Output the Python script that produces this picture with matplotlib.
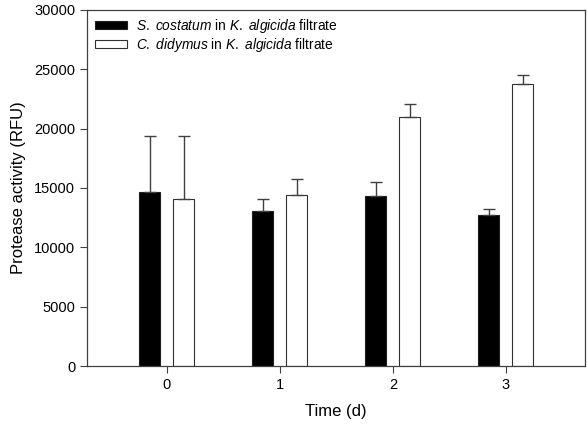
import numpy as np
import matplotlib
matplotlib.use('Agg')
import matplotlib.pyplot as plt

plt.rcParams['font.family'] = ['Liberation Sans', 'DejaVu Sans']
plt.rcParams['mathtext.fontset'] = 'custom'
plt.rcParams['mathtext.it'] = 'Liberation Sans:italic'
plt.rcParams['mathtext.rm'] = 'Liberation Sans'

# data
days = [0, 1, 2, 3]
costatum_mean = [14700, 13100, 14300, 12750]
costatum_err = [4680, 1000, 1200, 450]
didymus_mean = [14050, 14400, 21000, 23800]
didymus_err = [5330, 1380, 1100, 700]

x = np.array(days, dtype=float)
width = 0.185
offset = 0.15

fig = plt.figure(figsize=(5.87, 4.29), dpi=100)
ax = fig.add_axes([87 / 587, 63 / 429, 498 / 587, 356 / 429])

err_kw = dict(ecolor='#404040', elinewidth=1.0, capthick=1.0)
zeros = np.zeros(len(days))
ax.bar(x - offset, costatum_mean, width, color='black', edgecolor='#202020', linewidth=0.8,
       yerr=[zeros, costatum_err], capsize=4.3, error_kw=err_kw,
       label=r'$\it{S.\ costatum}$ in $\it{K.\ algicida}$ filtrate')
ax.bar(x + offset, didymus_mean, width, color='white', edgecolor='#303030', linewidth=0.8,
       yerr=[zeros, didymus_err], capsize=4.3, error_kw=err_kw,
       label=r'$\it{C.\ didymus}$ in $\it{K.\ algicida}$ filtrate')

ax.set_xlim(-0.707, 3.7)
ax.set_ylim(0, 30000)
ax.set_xticks(days)
ax.set_yticks(np.arange(0, 30001, 5000))
ax.tick_params(direction='out', length=5, width=0.8, color='#404040', labelsize=10.5)
for s in ax.spines.values():
    s.set_color('#404040')
    s.set_linewidth(0.9)

ax.set_xlabel('Time (d)', fontsize=12, labelpad=9)
ax.set_ylabel('Protease activity (RFU)', fontsize=12, labelpad=6)

leg = ax.legend(loc='upper left', frameon=False, fontsize=9.9, handlelength=2.35,
                handleheight=0.55, handletextpad=0.65, labelspacing=0.12,
                borderaxespad=0.2, borderpad=0.2, bbox_to_anchor=(0.005, 0.997))

fig.savefig('out.png', dpi=100)
